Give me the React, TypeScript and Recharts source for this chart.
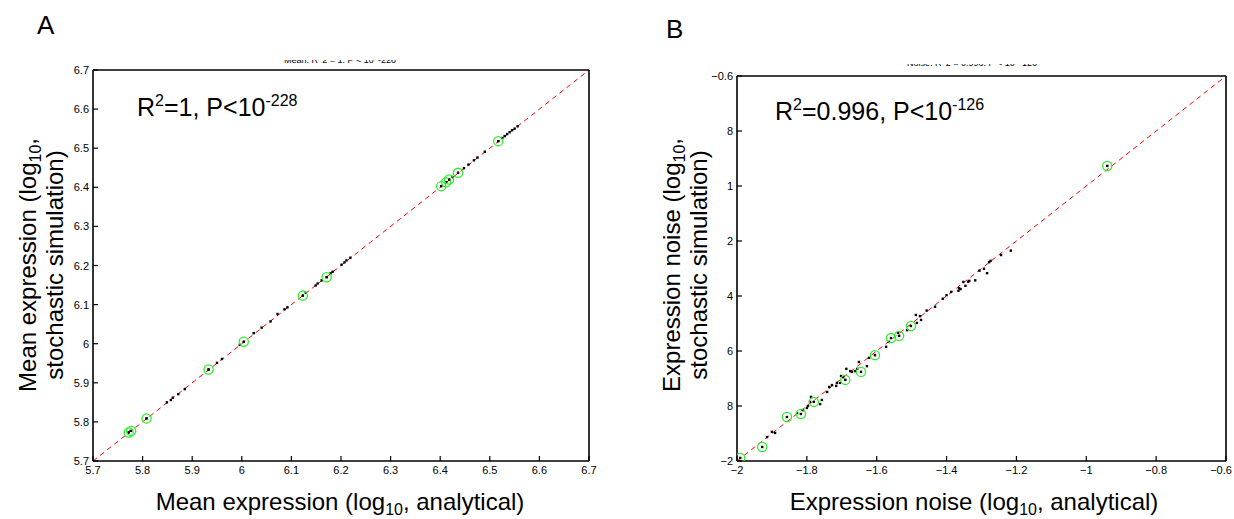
import React from 'react';
import { ScatterChart, Scatter, XAxis, YAxis, ReferenceLine } from 'recharts';

// Panel A: mean expression, analytical vs stochastic simulation (log10)
const meanTicks = [5.7, 5.8, 5.9, 6.0, 6.1, 6.2, 6.3, 6.4, 6.5, 6.6, 6.7];
const meanTickLabels = ['5.7', '5.8', '5.9', '6', '6.1', '6.2', '6.3', '6.4', '6.5', '6.6', '6.7'];

const meanAnalytical = [
  5.772, 5.776, 5.808, 5.849, 5.857, 5.861, 5.872, 5.885, 5.933, 5.95, 5.96, 5.996, 6.004,
  6.024, 6.04, 6.058, 6.072, 6.086, 6.092, 6.123, 6.129, 6.149, 6.153, 6.161, 6.171, 6.179,
  6.183, 6.201, 6.207, 6.211, 6.219, 6.402, 6.412, 6.418, 6.425, 6.436, 6.448, 6.457, 6.468,
  6.475, 6.49, 6.517, 6.525, 6.53, 6.535, 6.54, 6.545, 6.55, 6.556,
];
const meanSimulated = [
  5.773, 5.777, 5.809, 5.85, 5.856, 5.862, 5.871, 5.884, 5.934, 5.951, 5.961, 5.997, 6.005,
  6.027, 6.041, 6.057, 6.076, 6.088, 6.093, 6.123, 6.13, 6.149, 6.154, 6.162, 6.17, 6.18,
  6.184, 6.202, 6.208, 6.213, 6.22, 6.403, 6.413, 6.42, 6.426, 6.437, 6.449, 6.458, 6.469,
  6.476, 6.491, 6.518, 6.526, 6.531, 6.536, 6.541, 6.546, 6.55, 6.556,
];
const meanMarkedAnalytical = [5.772, 5.777, 5.808, 5.933, 6.004, 6.123, 6.171, 6.402, 6.412, 6.418, 6.436, 6.517];
const meanMarkedSimulated = [5.773, 5.777, 5.809, 5.934, 6.005, 6.123, 6.17, 6.403, 6.413, 6.42, 6.437, 6.518];

// Panel B: expression noise, analytical vs stochastic simulation (log10)
const noiseTicks = [-2, -1.8, -1.6, -1.4, -1.2, -1, -0.8, -0.6];
const noiseXTickLabels = ['\u22122', '\u22121.8', '\u22121.6', '\u22121.4', '\u22121.2', '\u22121', '\u22120.8', '\u22120.6'];
const noiseYTickLabels = ['\u22122', '8', '6', '4', '2', '1', '8', '\u22120.6'];

const noiseAnalytical = [
  -1.991, -1.928, -1.914, -1.9, -1.891, -1.857, -1.828, -1.817, -1.811, -1.8, -1.797, -1.788,
  -1.791, -1.78, -1.762, -1.757, -1.742, -1.736, -1.728, -1.716, -1.714, -1.705, -1.702, -1.696,
  -1.687, -1.69, -1.676, -1.671, -1.662, -1.656, -1.651, -1.628, -1.645, -1.622, -1.605, -1.573,
  -1.565, -1.559, -1.536, -1.539, -1.513, -1.502, -1.488, -1.476, -1.473, -1.485, -1.457, -1.433,
  -1.411, -1.4, -1.387, -1.366, -1.364, -1.36, -1.346, -1.352, -1.338, -1.335, -1.318, -1.306,
  -1.293, -1.284, -1.278, -1.274, -1.244, -1.216, -0.94,
];
const noiseSimulated = [
  -1.989, -1.949, -1.913, -1.894, -1.898, -1.84, -1.826, -1.829, -1.815, -1.807, -1.8, -1.767,
  -1.785, -1.785, -1.793, -1.778, -1.749, -1.731, -1.724, -1.727, -1.716, -1.716, -1.691, -1.695,
  -1.665, -1.705, -1.673, -1.676, -1.673, -1.665, -1.64, -1.655, -1.676, -1.625, -1.615, -1.585,
  -1.567, -1.553, -1.545, -1.534, -1.524, -1.509, -1.469, -1.473, -1.487, -1.498, -1.453, -1.439,
  -1.41, -1.397, -1.385, -1.381, -1.372, -1.375, -1.363, -1.349, -1.348, -1.345, -1.343, -1.308,
  -1.301, -1.317, -1.277, -1.272, -1.251, -1.235, -0.927,
];
const noiseMarkedAnalytical = [-1.991, -1.928, -1.857, -1.817, -1.78, -1.69, -1.645, -1.605, -1.559, -1.536, -1.502, -0.94];
const noiseMarkedSimulated = [-1.989, -1.949, -1.84, -1.829, -1.785, -1.705, -1.676, -1.615, -1.553, -1.545, -1.509, -0.927];

const FONT = '"Liberation Sans", Arial, Helvetica, sans-serif';
const TICK_LEN = 5;

const pairs = (xs: number[], ys: number[]) => xs.map((x, i) => ({ x, y: ys[i] }));

const labelFor = (ticks: number[], labels: string[], v: number) => {
  const i = ticks.findIndex((t) => Math.abs(t - v) < 1e-6);
  return i >= 0 ? labels[i] : '';
};

const BlackDot = (p: any) => <rect x={p.cx - 1.2} y={p.cy - 1.2} width={2.4} height={2.4} fill="#000" />;
const GreenRing = (p: any) => (
  <g>
    <circle cx={p.cx} cy={p.cy} r={4.6} fill="none" stroke="#2bee2b" strokeWidth={1.3} />
    <rect x={p.cx - 1} y={p.cy - 1} width={2} height={2} fill="#000" />
  </g>
);

// inward MATLAB-style tick marks, drawn by the tick renderers themselves
const makeBottomTick = (ticks: number[], labels: string[], maxX: number) => (p: any) => (
  <g>
    <line x1={p.x} y1={p.y} x2={p.x} y2={p.y - TICK_LEN} stroke="#000" strokeWidth={1.2} />
    <text x={Math.min(p.x, maxX)} y={p.y + 13} textAnchor="middle" fontSize={11} fontFamily={FONT} fill="#000">
      {labelFor(ticks, labels, p.payload.value)}
    </text>
  </g>
);
const makeLeftTick = (ticks: number[], labels: string[]) => (p: any) => (
  <g>
    <line x1={p.x} y1={p.y} x2={p.x + TICK_LEN} y2={p.y} stroke="#000" strokeWidth={1.2} />
    <text x={p.x - 4} y={p.y + 4} textAnchor="end" fontSize={11} fontFamily={FONT} fill="#000">
      {labelFor(ticks, labels, p.payload.value)}
    </text>
  </g>
);
const TopTick = (p: any) => <line x1={p.x} y1={p.y} x2={p.x} y2={p.y + TICK_LEN} stroke="#000" strokeWidth={1.2} />;
const RightTick = (p: any) => <line x1={p.x} y1={p.y} x2={p.x - TICK_LEN} y2={p.y} stroke="#000" strokeWidth={1.2} />;

type BoxProps = {
  width: number;
  height: number;
  margin: { top: number; right: number; bottom: number; left: number };
  ticks: number[];
  xLabels: string[];
  yLabels: string[];
  dots: { x: number; y: number }[];
  rings: { x: number; y: number }[];
};

function BoxScatter({ width, height, margin, ticks, xLabels, yLabels, dots, rings }: BoxProps) {
  const lo = ticks[0];
  const hi = ticks[ticks.length - 1];
  const domain: [number, number] = [lo, hi];
  const shared = {
    type: 'number' as const,
    domain,
    ticks,
    interval: 0 as const,
    allowDataOverflow: true,
    axisLine: false,
    tickLine: false,
    tickSize: 0,
    tickMargin: 0,
  };
  return (
    <ScatterChart width={width} height={height} margin={margin}>
      <XAxis xAxisId="b" dataKey="x" height={40} {...shared} tick={makeBottomTick(ticks, xLabels, width - 13)} />
      <XAxis xAxisId="t" orientation="top" mirror height={0} {...shared} tick={TopTick} />
      <YAxis yAxisId="l" dataKey="y" width={50} {...shared} tick={makeLeftTick(ticks, yLabels)} />
      <YAxis yAxisId="r" orientation="right" mirror width={0} {...shared} tick={RightTick} />
      <Scatter xAxisId="b" yAxisId="l" data={dots} shape={BlackDot} isAnimationActive={false} />
      <Scatter xAxisId="b" yAxisId="l" data={rings} shape={GreenRing} isAnimationActive={false} />
      <ReferenceLine
        xAxisId="b"
        yAxisId="l"
        segment={[{ x: lo, y: lo }, { x: hi, y: hi }]}
        stroke="#ff0000"
        strokeWidth={1}
        strokeDasharray="5 4"
        ifOverflow="visible"
      />
      {/* box frame */}
      <ReferenceLine xAxisId="b" yAxisId="l" x={lo} stroke="#000" strokeWidth={1.6} ifOverflow="visible" />
      <ReferenceLine xAxisId="b" yAxisId="l" x={hi} stroke="#000" strokeWidth={1.6} ifOverflow="visible" />
      <ReferenceLine xAxisId="b" yAxisId="l" y={lo} stroke="#000" strokeWidth={1.6} ifOverflow="visible" />
      <ReferenceLine xAxisId="b" yAxisId="l" y={hi} stroke="#000" strokeWidth={1.6} ifOverflow="visible" />
    </ScatterChart>
  );
}

export default function App() {
  const txt = { fontFamily: FONT, fill: '#000' };
  return (
    <div style={{ position: 'absolute', left: 0, top: 0, width: 1234, height: 519, background: '#fff', overflow: 'hidden' }}>
      <div style={{ position: 'absolute', left: 0, top: 0 }}>
        <BoxScatter
          width={620}
          height={519}
          margin={{ top: 70, right: 31, bottom: 18, left: 43 }}
          ticks={meanTicks}
          xLabels={meanTickLabels}
          yLabels={meanTickLabels}
          dots={pairs(meanAnalytical, meanSimulated)}
          rings={pairs(meanMarkedAnalytical, meanMarkedSimulated)}
        />
      </div>
      <div style={{ position: 'absolute', left: 620, top: 0 }}>
        <BoxScatter
          width={614}
          height={519}
          margin={{ top: 76, right: 8, bottom: 18, left: 67 }}
          ticks={noiseTicks}
          xLabels={noiseXTickLabels}
          yLabels={noiseYTickLabels}
          dots={pairs(noiseAnalytical, noiseSimulated)}
          rings={pairs(noiseMarkedAnalytical, noiseMarkedSimulated)}
        />
      </div>
      <svg width={1234} height={519} style={{ position: 'absolute', left: 0, top: 0, pointerEvents: 'none' }}>
        <defs>
          <clipPath id="clipA"><rect x={250} y={60} width={180} height={3} /></clipPath>
          <clipPath id="clipB"><rect x={890} y={64} width={170} height={2} /></clipPath>
        </defs>
        <text x={37} y={34} fontSize={26} {...txt}>A</text>
        <text x={666} y={38} fontSize={26} {...txt}>B</text>

        <text x={340} y={63} fontSize={9} textAnchor="middle" clipPath="url(#clipA)" {...txt}>
          Mean, R^2 = 1, P &lt; 10^-228
        </text>
        <text x={972} y={66} fontSize={9} textAnchor="middle" clipPath="url(#clipB)" {...txt}>
          Noise, R^2 = 0.996, P &lt; 10^-126
        </text>

        <text x={137} y={116} fontSize={25} {...txt}>
          R<tspan fontSize={16} dy={-10}>2</tspan>
          <tspan dy={10}>=1, P&lt;10</tspan>
          <tspan fontSize={16} dy={-10}>-228</tspan>
        </text>
        <text x={775} y={120} fontSize={25} {...txt}>
          R<tspan fontSize={16} dy={-10}>2</tspan>
          <tspan dy={10}>=0.996, P&lt;10</tspan>
          <tspan fontSize={16} dy={-10}>-126</tspan>
        </text>

        <text x={340} y={510} fontSize={24} textAnchor="middle" {...txt}>
          Mean expression (log<tspan fontSize={16} dy={5}>10</tspan>
          <tspan dy={-5}>, analytical)</tspan>
        </text>
        <text x={974} y={510} fontSize={24} textAnchor="middle" {...txt}>
          Expression noise (log<tspan fontSize={16} dy={5}>10</tspan>
          <tspan dy={-5}>, analytical)</tspan>
        </text>

        <g transform="rotate(-90 36 265)">
          <text x={36} y={265} fontSize={24} textAnchor="middle" {...txt}>
            Mean expression (log<tspan fontSize={16} dy={5}>10</tspan>
            <tspan dy={-5}>,</tspan>
          </text>
        </g>
        <g transform="rotate(-90 63 265)">
          <text x={63} y={265} fontSize={24} textAnchor="middle" {...txt}>stochastic simulation)</text>
        </g>
        <g transform="rotate(-90 680 265)">
          <text x={680} y={265} fontSize={24} textAnchor="middle" {...txt}>
            Expression noise (log<tspan fontSize={16} dy={5}>10</tspan>
            <tspan dy={-5}>,</tspan>
          </text>
        </g>
        <g transform="rotate(-90 707 265)">
          <text x={707} y={265} fontSize={24} textAnchor="middle" {...txt}>stochastic simulation)</text>
        </g>
      </svg>
    </div>
  );
}
